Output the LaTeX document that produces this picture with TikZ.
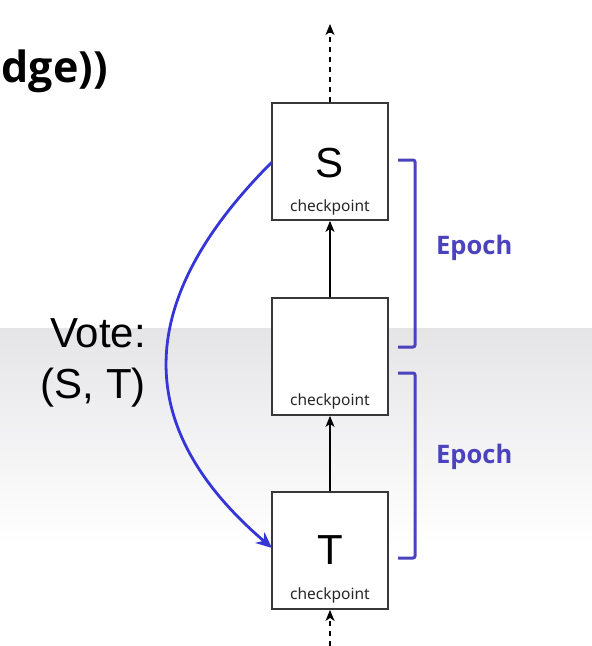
\documentclass[tikz,border=0pt]{standalone}
\usepackage{fontspec}
\setmainfont{Liberation Sans}
\newfontfamily\notos{Noto Sans}
\newfontfamily\boldsans{Open Sans}
\usetikzlibrary{arrows.meta}
\definecolor{epochc}{HTML}{4B42BE}
\definecolor{votec}{HTML}{3535D8}
\definecolor{bandc}{HTML}{E5E5E8}
\definecolor{boxc}{HTML}{383838}
\begin{document}
\begin{tikzpicture}[x=1pt,y=-1pt,
  ckbox/.style={draw=boxc, line width=1.8pt, fill=white, minimum width=116pt, minimum height=117pt, inner sep=0pt},
  bigletter/.style={font=\fontsize{42}{48}\selectfont, inner sep=0pt},
  cklabel/.style={font=\notos\fontsize{15.5}{18}\selectfont, text=black!85, inner sep=0pt},
  flow/.style={draw=black, line width=1.3pt, -{Stealth[length=11pt,width=9pt,inset=3pt]}},
  dflow/.style={flow, dash pattern=on 5pt off 5pt},
  bracket/.style={draw=epochc, line width=3pt, rounded corners=2pt},
  epochlbl/.style={font=\boldsans\bfseries\fontsize{25.5}{30}\selectfont, text=epochc, inner sep=0pt, anchor=west},
  votelbl/.style={font=\fontsize{42}{50}\selectfont, inner sep=0pt, anchor=base east}
]
\useasboundingbox (0,0) rectangle (592,646);
\fill[white] (0,0) rectangle (592,646);
\shade[top color=bandc, bottom color=white] (0,328) rectangle (592,545);

% title fragment
\node[font=\boldsans\bfseries\fontsize{43}{50}\selectfont, anchor=base east, inner sep=0pt] (title) at (108,82) {dge))};

% boxes
\node[ckbox] (S) at (330,161.5) {};
\node[ckbox] (M) at (330,356.5) {};
\node[ckbox] (T) at (330,550.5) {};
\node[bigletter] (Sl) at (330,163) {S};
\node[bigletter] (Tl) at (330,550) {T};
\node[cklabel] (Sc) at (330,207) {checkpoint};
\node[cklabel] (Mc) at (330,401) {checkpoint};
\node[cklabel] (Tc) at (330,595) {checkpoint};

% flow arrows
\coordinate (top) at (330,24);
\coordinate (bot) at (330,646);
\draw[dflow] (S.north) -- (top);
\draw[flow] (M.north) -- (S.south);
\draw[flow] (T.north) -- (M.south);
\draw[dflow] (bot) -- (T.south);

% vote curve
\coordinate (vs) at (272,162);
\coordinate (ve) at (272,548);
\draw[votec, line width=2.8pt, -{Stealth[length=16pt,width=14pt,inset=5pt]}] (vs) .. controls (132,302) and (132,428) .. (ve);
\node[votelbl] (vote1) at (146,347) {Vote:};
\node[votelbl] (vote2) at (146,398) {(S, T)};

% brackets
\draw[bracket] (398,160) -- (415,160) -- (415,347) -- (398,347);
\draw[bracket] (398,373) -- (415,373) -- (415,558) -- (398,558);
\node[epochlbl] (e1) at (436,248) {Epoch};
\node[epochlbl] (e2) at (436,457) {Epoch};
\end{tikzpicture}
\end{document}
